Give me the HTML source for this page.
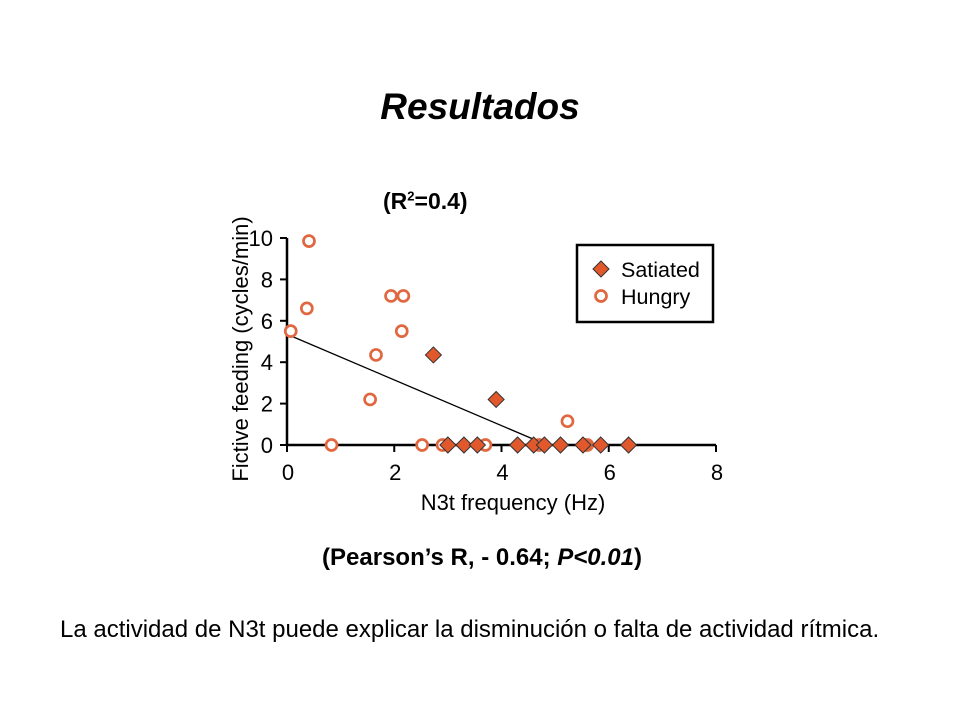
<!DOCTYPE html>
<html><head><meta charset="utf-8"><style>
body{margin:0;background:#fff;width:960px;height:720px;overflow:hidden;font-family:"Liberation Sans",Arial,sans-serif}
.t{position:absolute;white-space:nowrap}
</style></head><body>
<div class="t" style="left:0;width:960px;text-align:center;top:86px;font-size:37px;font-weight:bold;font-style:italic">Resultados</div>
<div class="t" style="left:383px;top:188px;font-size:23px;font-weight:bold">(R<sup style="font-size:13px">2</sup>=0.4)</div>
<div class="t" style="left:0;width:964px;text-align:center;top:544px;font-size:24px;font-weight:bold">(Pearson’s R, - 0.64; <i>P&lt;0.01</i>)</div>
<div class="t" style="left:60px;top:616px;font-size:24px">La actividad de N3t puede explicar la disminución o falta de actividad rítmica.</div>
<svg id="chart" width="960" height="720" style="position:absolute;left:0;top:0" font-family="Liberation Sans, Arial, sans-serif"></svg>
<script>
const xTicks=[0,2,4,6,8];
const yTicks=[0,2,4,6,8,10];
const hungryX=[0.41,0.37,0.07,1.94,2.17,2.14,1.66,1.55,0.83,2.52,2.9,3.7,5.23,5.6,4.7,5.55];
const hungryY=[9.85,6.6,5.5,7.2,7.2,5.5,4.35,2.2,0,0,0,0,1.15,0,0,0];
const satX=[2.73,3.9,3.0,3.3,3.55,4.3,4.6,4.8,5.1,5.52,5.85,6.37];
const satY=[4.35,2.2,0,0,0,0,0,0,0,0,0,0];
const lineX=[0,4.85];
const lineY=[5.35,0];
const NS='http://www.w3.org/2000/svg';
const svg=document.getElementById('chart');
const sx=v=>287+v*(716-287)/8;
const sy=v=>445-v*(445-238)/10;
function mk(t,a){const e=document.createElementNS(NS,t);for(const k in a)e.setAttribute(k,a[k]);svg.appendChild(e);return e;}
let e;
e=mk('line',{x1:sx(0),y1:sy(0),x2:sx(8),y2:sy(0),stroke:'#000','stroke-width':2.5});


e=mk('line',{x1:sx(0),y1:sy(0),x2:sx(0),y2:sy(10),stroke:'#000','stroke-width':2.5});


xTicks.forEach(v=>{
 e=mk('line',{x1:sx(v),y1:sy(0),x2:sx(v),y2:sy(0)+7,stroke:'#000','stroke-width':2});
 
 
 e=mk('text',{x:sx(v)+1,y:480,'font-size':22,'text-anchor':'middle'});e.textContent=v;
 
 
});
yTicks.forEach(v=>{
 e=mk('line',{x1:sx(0)-7,y1:sy(v),x2:sx(0),y2:sy(v),stroke:'#000','stroke-width':2});
 
 
 e=mk('text',{x:273,y:sy(v)+8,'font-size':22,'text-anchor':'end'});e.textContent=v;
 
 
});
e=mk('text',{x:513,y:510,'font-size':22,'text-anchor':'middle'});e.textContent='N3t frequency (Hz)';


e=mk('text',{x:0,y:0,'font-size':22,'text-anchor':'middle',transform:'translate(248,349) rotate(-90)'});e.textContent='Fictive feeding (cycles/min)';


e=mk('line',{x1:sx(lineX[0]),y1:sy(lineY[0]),x2:sx(lineX[1]),y2:sy(lineY[1]),stroke:'#000','stroke-width':1.3});


hungryX.forEach((x,i)=>{
 e=mk('circle',{cx:sx(x),cy:sy(hungryY[i]),r:5.5,fill:'#fff',stroke:'#e0673f','stroke-width':2.7});
 
 
});
satX.forEach((x,i)=>{
 const cx=sx(x),cy=sy(satY[i]);
 e=mk('polygon',{points:`${cx},${cy-8} ${cx+8},${cy} ${cx},${cy+8} ${cx-8},${cy}`,fill:'#e0582b',stroke:'#333','stroke-width':1});
 
 
});
e=mk('rect',{x:577,y:245,width:136,height:77,fill:'#fff',stroke:'#000','stroke-width':2.5});


e=mk('polygon',{points:'601,261 609,269 601,277 593,269',fill:'#e0582b',stroke:'#333','stroke-width':1});


e=mk('text',{x:621,y:277,'font-size':21.5});e.textContent='Satiated';


e=mk('circle',{cx:601,cy:296,r:5.5,fill:'#fff',stroke:'#e0673f','stroke-width':2.7});


e=mk('text',{x:621,y:304,'font-size':21.5});e.textContent='Hungry';


</script>
</body></html>
